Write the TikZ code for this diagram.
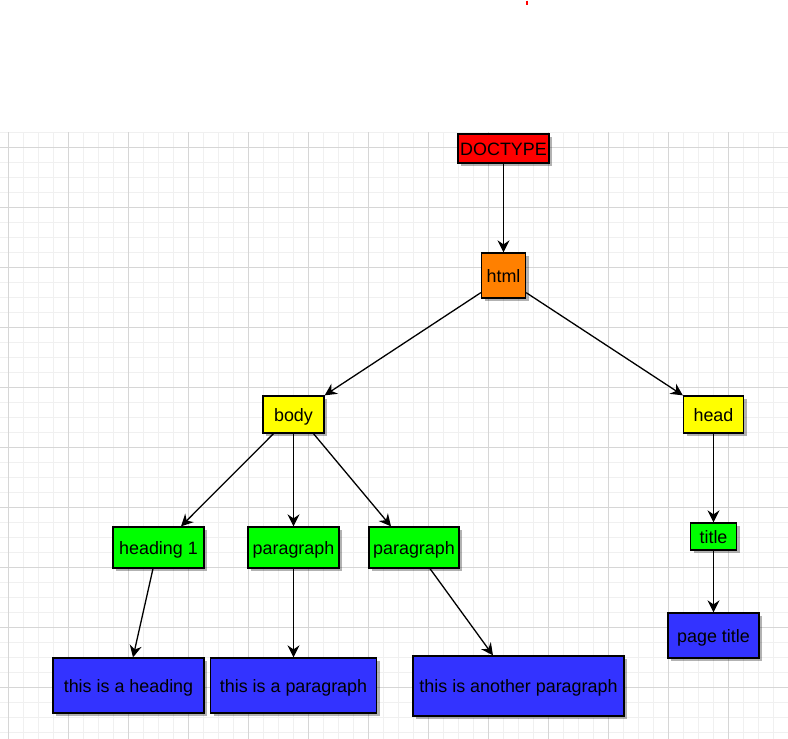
\documentclass[tikz,border=0pt]{standalone}
\usepackage{fontspec}
\setmainfont{Liberation Sans}
\usetikzlibrary{arrows.meta,shadows}

\definecolor{docred}{HTML}{FF0000}
\definecolor{htmlorange}{HTML}{FF8000}
\definecolor{secyellow}{HTML}{FFFF00}
\definecolor{elgreen}{HTML}{00FF00}
\definecolor{txtblue}{HTML}{3333FF}
\definecolor{gridminor}{HTML}{F0F0F0}
\definecolor{gridmajor}{HTML}{D6D6D6}

\tikzset{
  tag/.style={draw=black, line width=1.3pt, inner sep=0pt, text=black,
    text height=13pt, text depth=0pt,
    font=\fontsize{17.9}{20}\selectfont,
    drop shadow={shadow xshift=3pt, shadow yshift=-3pt, fill=black, opacity=0.3}},
  link/.style={draw=black, line width=1.3pt,
    -{Stealth[length=12pt, width=12pt, inset=4pt]}},
}

\begin{document}
\begin{tikzpicture}[x=1pt, y=-1pt]
  \useasboundingbox (0,0) rectangle (788,739);

  % background grid: minor every 15, major every 60
  \foreach \gx in {8,23,...,788} \draw[gridminor, line width=1pt] (\gx,132) -- (\gx,739);
  \foreach \gy in {132,147,...,739} \draw[gridminor, line width=1pt] (0,\gy) -- (788,\gy);
  \foreach \gx in {8,68,...,788} \draw[gridmajor, line width=1pt] (\gx,132) -- (\gx,739);
  \foreach \gy in {147,207,...,739} \draw[gridmajor, line width=1pt] (0,\gy) -- (788,\gy);

  % small red mark at the top edge
  \draw[docred, line width=1.5pt] (527,0.5) -- (527,4.5);

  % document tree
  \node[tag, fill=docred, minimum width=91pt, minimum height=29pt] (doctype) at (503.5,148.5) {DOCTYPE};
  \node[tag, fill=htmlorange, minimum width=44pt, minimum height=45pt] (html) at (503.5,275.5) {html};
  \node[tag, fill=secyellow, minimum width=61pt, minimum height=37pt] (body) at (293.5,414.5) {body};
  \node[tag, fill=secyellow, minimum width=60pt, minimum height=37pt] (head) at (713.5,414.5) {head};
  \node[tag, fill=elgreen, minimum width=46pt, minimum height=27pt] (title) at (713.5,536.5) {title};
  \node[tag, fill=txtblue, minimum width=91pt, minimum height=45pt] (pagetitle) at (713.5,635.5) {page title};
  \node[tag, fill=elgreen, minimum width=91pt, minimum height=41pt] (h1) at (158.5,547.5) {heading 1};
  \node[tag, fill=elgreen, minimum width=91pt, minimum height=41pt] (para1) at (293.5,547.5) {paragraph};
  \node[tag, fill=elgreen, minimum width=90pt, minimum height=41pt] (para2) at (414,547.5) {paragraph};
  \node[tag, fill=txtblue, minimum width=151pt, minimum height=55pt] (h1text) at (128.5,685.5) {this is a heading};
  \node[tag, fill=txtblue, minimum width=166pt, minimum height=55pt] (p1text) at (293.5,685.5) {this is a paragraph};
  \node[tag, fill=txtblue, minimum width=211pt, minimum height=60pt] (p2text) at (518.5,686) {this is another paragraph};

  % connectors
  \draw[link] (doctype.south) -- (html.north);
  \draw[link] ([yshift=6pt]html.south west) -- (body.north east);
  \draw[link] ([yshift=6pt]html.south east) -- (head.north west);
  \draw[link] ([xshift=-20pt]body.south) -- ([xshift=22.5pt]h1.north);
  \draw[link] (body.south) -- (para1.north);
  \draw[link] ([xshift=20pt]body.south) -- ([xshift=-23pt]para2.north);
  \draw[link] ([xshift=-5.5pt]h1.south) -- ([xshift=4.5pt]h1text.north);
  \draw[link] (para1.south) -- (p1text.north);
  \draw[link] ([xshift=16pt]para2.south) -- ([xshift=-25.5pt]p2text.north);
  \draw[link] (head.south) -- (title.north);
  \draw[link] (title.south) -- (pagetitle.north);
\end{tikzpicture}
\end{document}
